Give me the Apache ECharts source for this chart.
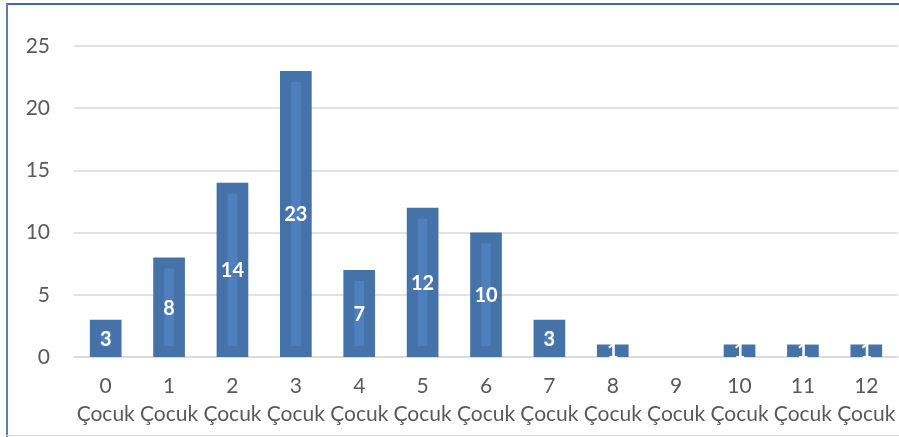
<!DOCTYPE html>
<html>
<head>
<meta charset="utf-8">
<script src="https://cdn.jsdelivr.net/npm/echarts@6/dist/echarts.min.js"></script>
<style>
html,body{margin:0;padding:0;background:#fff;}
#c{width:899px;height:437px;}
</style>
</head>
<body>
<div id="c"></div>
<script>
const categories = ['0','1','2','3','4','5','6','7','8','9','10','11','12'];
const categorySuffix = 'Çocuk';
const values = [3, 8, 14, 23, 7, 12, 10, 3, 1, 0, 1, 1, 1];
const yTicks = { min: 0, max: 25, interval: 5 };

const OUTER = '#4672AA';
const INNER = '#4F7FBC';
const FONT = 'Lato, "Open Sans", sans-serif';

const chart = echarts.init(document.getElementById('c'), null, { renderer: 'canvas' });

function renderBar(params, api) {
  const idx = api.value(0);
  const val = api.value(1);
  if (!val) return null;
  const top = api.coord([idx, val]);
  const base = api.coord([idx, 0]);
  const bw = api.size([1, 0])[0] * 0.5;
  const x = top[0] - bw / 2;
  const y = top[1];
  const h = base[1] - top[1];
  const children = [{
    type: 'rect',
    shape: { x: x, y: y, width: bw, height: h },
    style: { fill: OUTER }
  }];
  const insetX = 11, insetY = 11;
  if (h > insetY * 2 + 2) {
    children.push({
      type: 'rect',
      shape: { x: x + insetX, y: y + insetY, width: bw - insetX * 2, height: h - insetY * 2 },
      style: { fill: INNER }
    });
  }
  children.push({
    type: 'text',
    x: top[0],
    y: y + h / 2 + 1,
    style: {
      text: String(val),
      fill: '#ffffff',
      font: 'bold 20px ' + FONT,
      align: 'center',
      verticalAlign: 'middle'
    },
    z2: 10
  });
  return { type: 'group', children: children };
}

chart.setOption({
  animation: false,
  grid: { left: 74, right: 1, top: 46, bottom: 80, containLabel: false },
  xAxis: {
    type: 'category',
    data: categories.map(c => c + '\n' + categorySuffix),
    axisLine: { show: true, lineStyle: { color: '#d9d9d9', width: 1.5 } },
    axisTick: { show: false },
    axisLabel: {
      color: '#595959',
      fontFamily: FONT,
      fontSize: 21,
      lineHeight: 28,
      margin: 15,
      interval: 0
    }
  },
  yAxis: {
    type: 'value',
    min: yTicks.min,
    max: yTicks.max,
    interval: yTicks.interval,
    axisLine: { show: false },
    axisTick: { show: false },
    splitLine: { lineStyle: { color: '#d9d9d9', width: 1.5 } },
    axisLabel: {
      color: '#595959',
      fontFamily: FONT,
      fontSize: 21,
      margin: 24
    }
  },
  series: [{
    type: 'custom',
    renderItem: renderBar,
    encode: { x: 0, y: 1 },
    data: values.map((v, i) => [i, v]),
    clip: false
  }],
  graphic: [
    { type: 'line', shape: { x1: 6, y1: 4, x2: 899, y2: 4 }, style: { stroke: '#3E6AA8', lineWidth: 2 } },
    { type: 'line', shape: { x1: 7, y1: 3, x2: 7, y2: 437 }, style: { stroke: '#5A7FB6', lineWidth: 2 } },
    { type: 'line', shape: { x1: 6, y1: 435.5, x2: 899, y2: 435.5 }, style: { stroke: '#C9D8EA', lineWidth: 1 } }
  ]
});
</script>
</body>
</html>
